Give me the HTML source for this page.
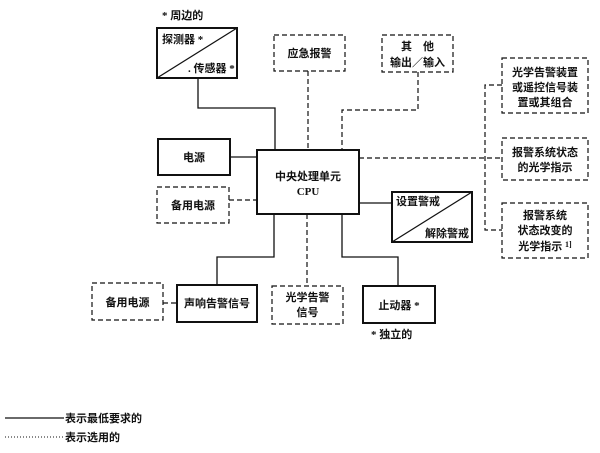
<!DOCTYPE html>
<html><head><meta charset="utf-8"><style>
body{margin:0;background:#fff}
svg text{font-family:"Liberation Serif","Noto Sans CJK SC",sans-serif;font-size:11px;font-weight:bold;fill:#111}
</style></head><body>
<svg width="600" height="448" viewBox="0 0 600 448" xmlns="http://www.w3.org/2000/svg">
<g fill="none" stroke="#111" stroke-width="1.3">
<!-- solid boxes -->
<rect x="157" y="28" width="80" height="50" stroke-width="2"/>
<line x1="157" y1="78" x2="237" y2="28"/>
<rect x="158" y="139" width="72" height="36" stroke-width="2"/>
<rect x="257" y="150" width="102" height="64" stroke-width="2"/>
<rect x="392" y="192" width="80" height="50" stroke-width="2"/>
<line x1="392" y1="242" x2="472" y2="192"/>
<rect x="177" y="285" width="80" height="37" stroke-width="2"/>
<rect x="363" y="286" width="72" height="37" stroke-width="2"/>
<!-- solid lines -->
<polyline points="198,78 198,108 275,108 275,150"/>
<line x1="230" y1="157" x2="257" y2="157"/>
<line x1="359" y1="203" x2="392" y2="203"/>
<polyline points="274,214 274,257 217,257 217,285"/>
<polyline points="342,214 342,257 398,257 398,286"/>
<line x1="5" y1="418" x2="64" y2="418"/>
</g>
<g fill="none" stroke="#111" stroke-width="1.2" stroke-dasharray="5,3">
<rect x="274" y="35" width="71" height="36"/>
<rect x="382" y="35" width="71" height="37"/>
<rect x="157" y="187" width="72" height="36"/>
<rect x="92" y="283" width="71" height="37"/>
<rect x="272" y="286" width="71" height="38"/>
<rect x="502" y="58" width="86" height="55"/>
<rect x="502" y="138" width="86" height="42"/>
<rect x="502" y="203" width="86" height="55"/>
<line x1="308" y1="71" x2="308" y2="150"/>
<polyline points="418,72 418,110 342,110 342,150"/>
<line x1="359" y1="158" x2="502" y2="158"/>
<line x1="229" y1="200" x2="257" y2="200"/>
<line x1="163" y1="303" x2="177" y2="303"/>
<line x1="307" y1="214" x2="307" y2="286"/>
<polyline points="502,85 485,85 485,230 502,230"/>
</g>
<line x1="5" y1="437" x2="64" y2="437" stroke="#111" stroke-width="1" stroke-dasharray="1,2"/>
<text x="162" y="19">* 周边的</text>
<text x="162" y="43">探测器 *</text>
<text x="188" y="72">. 传感器 *</text>
<text x="309.5" y="57" text-anchor="middle">应急报警</text>
<text x="417.5" y="50" text-anchor="middle">其　他</text>
<text x="417.5" y="66" text-anchor="middle">输出／输入</text>
<text x="194" y="161" text-anchor="middle">电源</text>
<text x="308" y="180" text-anchor="middle">中央处理单元</text>
<text x="308" y="195" text-anchor="middle">CPU</text>
<text x="193" y="209" text-anchor="middle">备用电源</text>
<text x="396" y="205">设置警戒</text>
<text x="425" y="237">解除警戒</text>
<text x="545" y="76" text-anchor="middle">光学告警装置</text>
<text x="545" y="91" text-anchor="middle">或遥控信号装</text>
<text x="545" y="106" text-anchor="middle">置或其组合</text>
<text x="545" y="156" text-anchor="middle">报警系统状态</text>
<text x="545" y="171" text-anchor="middle">的光学指示</text>
<text x="545" y="219" text-anchor="middle">报警系统</text>
<text x="545" y="234" text-anchor="middle">状态改变的</text>
<text x="545" y="250" text-anchor="middle">光学指示 <tspan font-size="8" dy="-3">1]</tspan></text>
<text x="127.5" y="306" text-anchor="middle">备用电源</text>
<text x="217" y="307" text-anchor="middle">声响告警信号</text>
<text x="307.5" y="301" text-anchor="middle">光学告警</text>
<text x="307.5" y="316" text-anchor="middle">信号</text>
<text x="399" y="309" text-anchor="middle">止动器 *</text>
<text x="371" y="338">* 独立的</text>
<text x="65" y="422">表示最低要求的</text>
<text x="65" y="441">表示选用的</text>
</svg>
</body></html>
